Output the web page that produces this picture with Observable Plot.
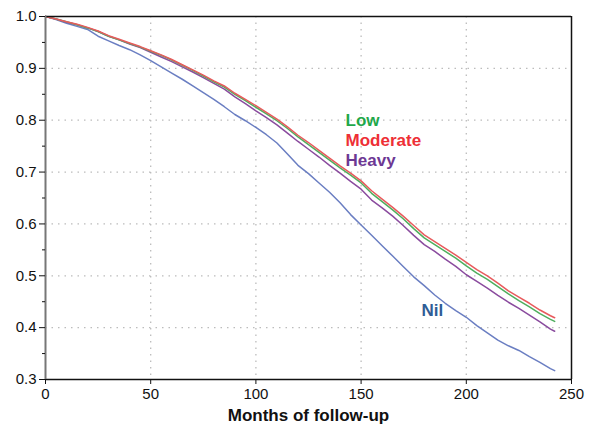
<!DOCTYPE html>
<html>
<head>
<meta charset="utf-8">
<script src="https://cdn.jsdelivr.net/npm/d3@7"></script>
<script src="https://cdn.jsdelivr.net/npm/@observablehq/plot@0.6"></script>
<style>
  html, body { margin: 0; padding: 0; background: #fff; }
  #chart { width: 594px; height: 425px; }
</style>
</head>
<body>
<div id="chart"></div>
<script>
const months = [0,5,10,15,20,25,30,35,40,45,50,55,60,65,70,75,80,85,90,95,100,105,110,115,120,125,130,135,140,145,150,155,160,165,170,175,180,185,190,195,200,205,210,215,220,225,230,235,240,242];

const moderate = [1.0,0.995,0.99,0.985,0.979,0.972,0.963,0.956,0.949,0.942,0.934,0.926,0.917,0.907,0.897,0.887,0.876,0.866,0.852,0.840,0.828,0.815,0.802,0.787,0.771,0.757,0.742,0.727,0.712,0.698,0.683,0.664,0.648,0.632,0.615,0.597,0.579,0.566,0.553,0.540,0.526,0.512,0.500,0.486,0.471,0.459,0.447,0.434,0.423,0.419];
const low      = [1.0,0.995,0.99,0.984,0.978,0.971,0.962,0.955,0.948,0.941,0.933,0.925,0.916,0.906,0.896,0.885,0.874,0.864,0.850,0.838,0.825,0.812,0.799,0.784,0.768,0.753,0.738,0.723,0.708,0.694,0.679,0.659,0.643,0.627,0.610,0.591,0.573,0.560,0.547,0.534,0.519,0.505,0.493,0.479,0.465,0.452,0.440,0.427,0.416,0.412];
const heavy    = [1.0,0.995,0.989,0.984,0.978,0.971,0.962,0.955,0.947,0.940,0.931,0.922,0.913,0.903,0.893,0.882,0.871,0.860,0.845,0.832,0.818,0.805,0.791,0.775,0.759,0.744,0.729,0.713,0.698,0.682,0.667,0.646,0.631,0.615,0.597,0.578,0.560,0.547,0.532,0.518,0.502,0.489,0.476,0.462,0.449,0.437,0.424,0.411,0.397,0.393];
const nil      = [1.0,0.994,0.987,0.981,0.975,0.962,0.953,0.944,0.936,0.926,0.915,0.903,0.891,0.879,0.866,0.853,0.840,0.826,0.811,0.799,0.786,0.772,0.756,0.735,0.713,0.697,0.679,0.661,0.641,0.618,0.598,0.578,0.558,0.538,0.518,0.498,0.481,0.463,0.447,0.433,0.420,0.404,0.390,0.376,0.365,0.356,0.344,0.333,0.321,0.317];

const seriesNames  = ["Nil", "Heavy", "Low", "Moderate"];
const seriesValues = [nil, heavy, low, moderate];
const lineColors   = {Nil: "#6a7ec2", Heavy: "#8a4b9e", Low: "#4fae5e", Moderate: "#e85a5c"};

const xTicks = [0, 50, 100, 150, 200, 250];
const yTicks = [0.3, 0.4, 0.5, 0.6, 0.7, 0.8, 0.9, 1.0];
const yMinorTicks = [0.35, 0.45, 0.55, 0.65, 0.75, 0.85, 0.95];

const labels = [
  {name: "Low",      x: 142.6, y: 0.800, color: "#1fa84a"},
  {name: "Moderate", x: 142.6, y: 0.761, color: "#ee2f36"},
  {name: "Heavy",    x: 142.6, y: 0.722, color: "#6d3894"},
  {name: "Nil",      x: 178.7, y: 0.433, color: "#2f5d96"}
];

const rows = [];
seriesNames.forEach((s, i) => {
  months.forEach((m, j) => rows.push({series: s, month: m, surv: seriesValues[i][j]}));
});

const font = "Liberation Sans, Arial, sans-serif";

const plot = Plot.plot({
  width: 594,
  height: 425,
  marginLeft: 45,
  marginRight: 23,
  marginTop: 16,
  marginBottom: 46,
  style: {fontFamily: font, fontSize: "14px", color: "#111", background: "#fff"},
  x: {type: "linear", domain: [0, 250]},
  y: {type: "linear", domain: [0.3, 1.0]},
  marks: [
    Plot.ruleX(xTicks.slice(1, -1), {stroke: "#bcbcbc", strokeWidth: 1.3, strokeDasharray: "1.5,5"}),
    Plot.ruleY(yTicks.slice(1, -1), {stroke: "#bcbcbc", strokeWidth: 1.3, strokeDasharray: "1.5,5"}),
    Plot.line(rows, {x: "month", y: "surv", z: "series", stroke: d => lineColors[d.series], strokeWidth: 1.5, curve: "linear"}),
    Plot.ruleY([1.0], {stroke: "#111", strokeWidth: 1.5}),
    Plot.ruleX([250], {stroke: "#111", strokeWidth: 1.5}),
    Plot.ruleY([0.3], {stroke: "#111", strokeWidth: 1.5}),
    Plot.ruleX([0], {stroke: "#777", strokeWidth: 2}),
    Plot.axisX({ticks: xTicks, tickSize: 5, tickPadding: 4, tickFormat: d3.format("d"), fontSize: 15,
      label: "Months of follow-up", labelAnchor: "center", labelArrow: "none", labelOffset: 41}),
    Plot.axisY({ticks: yTicks, tickSize: 6, tickPadding: 3, tickFormat: d3.format(".1f"), fontSize: 15, label: null}),
    Plot.axisY({ticks: yMinorTicks, tickSize: 3, tickFormat: () => "", label: null}),
    Plot.text(labels, {x: "x", y: "y", text: "name", fill: "color", textAnchor: "start", fontWeight: "bold", fontSize: 17})
  ]
});

plot.querySelectorAll("text").forEach(t => {
  if (t.textContent === "Months of follow-up") {
    t.setAttribute("font-weight", "bold");
    t.setAttribute("font-size", "17");
  }
});
document.getElementById("chart").appendChild(plot);
</script>
</body>
</html>
